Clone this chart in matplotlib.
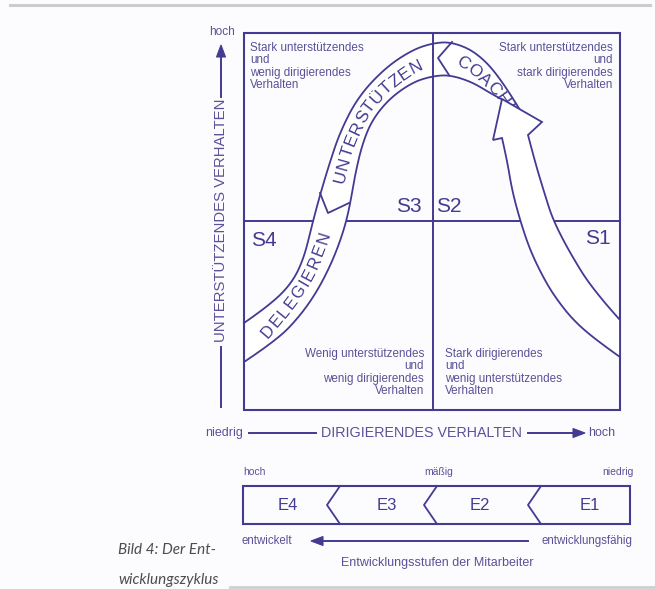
import numpy as np
import matplotlib
matplotlib.use('Agg')
from matplotlib import pyplot as plt
from matplotlib.path import Path
from matplotlib.patches import Polygon, Rectangle
from matplotlib.font_manager import FontProperties
from matplotlib.textpath import text_to_path

LINE = '#433a92'
TXT = '#5a5297'
FONT = 'Liberation Sans'

# --- diagram data (pixel positions) ---
box = (244, 33, 620, 410)          # left, top, right, bottom of quadrant field
mid_x, mid_y = 433, 221

quad_labels = ['S4', 'S3', 'S2', 'S1']
quad_label_xy = [(264, 240), (409, 206), (449, 206), (598, 238)]

quad_texts = [
    'Stark unterstützendes\nund\nwenig dirigierendes\nVerhalten',
    'Stark unterstützendes\nund\nstark dirigierendes\nVerhalten',
    'Wenig unterstützendes\nund\nwenig dirigierendes\nVerhalten',
    'Stark dirigierendes\nund\nwenig unterstützendes\nVerhalten',
]
quad_text_xy = [(250, 42), (613, 42), (424, 348), (445, 348)]
quad_text_ha = ['left', 'right', 'right', 'left']

# band edges (left/top part of the bell curve)
outer_edge = [(244, 323), (270, 305), (292, 283), (304, 258), (312, 225), (320, 195),
              (329, 165), (340, 132), (358, 97), (385, 68), (412, 50), (433, 43),
              (452, 42), (476, 52), (500, 77), (520, 110)]
inner_edge = [(244, 362), (277, 340), (300, 316), (318, 290), (333, 260), (344, 230),
              (350, 205), (355, 175), (362, 145), (372, 120), (390, 98), (413, 82),
              (433, 76), (450, 75), (472, 82), (490, 93), (501, 99)]
cut_v = [(320, 193), (328, 213), (349, 203)]
cut_top = [(452, 42), (438, 58), (449, 75)]

# big arrow on the right (S1 -> S2)
head_tip = (502, 99)
head_right = (542, 122)
head_left = (493, 140)
shaft_right = [(528, 135), (535, 162), (545, 195), (553, 220), (570, 253), (593, 290), (620, 320)]
shaft_left = [(620, 357), (596, 340), (573, 320), (555, 297), (543, 277), (530, 250),
              (520, 220), (512, 190), (507, 160), (502, 138)]

# words along the band
band_words = ['DELEGIEREN', 'UNTERSTÜTZEN', 'COACHING']
band_word_path = [
    [(264, 336), (288, 308), (305, 283), (318, 256), (327, 230), (333, 205)],
    [(339, 183), (344, 163), (351, 141), (362, 117), (378, 96), (398, 78), (420, 64), (442, 57)],
    [(457, 60), (471, 68), (486, 80), (499, 95), (510, 112), (518, 130), (522, 150)],
]
band_word_size = [12, 12.5, 12.5]
band_word_gap = [1.6, 1.0, 1.0]

# development stages bar
stages = ['E4', 'E3', 'E2', 'E1']
stage_x = [288, 387, 480, 590]
chevron_tip_x = [327, 424, 528]
chevron_top_x = [340, 437, 541]
stage_box = (243, 486, 630, 524)
stage_top_labels = ['hoch', 'mäßig', 'niedrig']


def smooth(pts):
    p = np.asarray(pts, float)
    verts = [p[0]]
    codes = [Path.MOVETO]
    for i in range(1, len(p) - 2):
        verts += [p[i], (p[i] + p[i + 1]) / 2]
        codes += [Path.CURVE3, Path.CURVE3]
    verts += [p[-2], p[-1]]
    codes += [Path.CURVE3, Path.CURVE3]
    return Path(verts, codes)


def flatten(path, n=25):
    out = []
    for seg, code in path.iter_bezier():
        if code == Path.MOVETO:
            continue
        t = np.linspace(0, 1, n)
        pts = seg(t)
        if out:
            pts = pts[1:]
        out.append(pts)
    return np.vstack(out)


fig = plt.figure(figsize=(6.55, 5.89), dpi=100)
fig.patch.set_facecolor('#fcfcfe')
ax = fig.add_axes([0, 0, 1, 1])
ax.set_xlim(0, 655)
ax.set_ylim(589, 0)
ax.axis('off')

# page rules
ax.plot([10, 650], [5, 5], color='#cccccc', lw=2.2)
ax.plot([230, 655], [587, 587], color='#d0d0d0', lw=2)

# quadrant field
l, t, r, b = box
ax.add_patch(Rectangle((l, t), r - l, b - t, fill=False, ec=LINE, lw=1.5, zorder=3))
ax.plot([l, r], [mid_y, mid_y], color=LINE, lw=1.4, zorder=1)
ax.plot([mid_x, mid_x], [t, b], color=LINE, lw=1.4, zorder=3.5)

for s, (x, y) in zip(quad_labels, quad_label_xy):
    ax.text(x, y, s, ha='center', va='center', fontsize=15, family=FONT, color=LINE, zorder=4)

for s, (x, y), ha in zip(quad_texts, quad_text_xy, quad_text_ha):
    ax.text(x, y, s, ha=ha, va='top', multialignment=ha, fontsize=8.4, family=FONT,
            color=TXT, linespacing=1.05, zorder=4)

# band
outer_xy = flatten(smooth(outer_edge))
inner_xy = flatten(smooth(inner_edge))
ax.add_patch(Polygon(np.vstack([outer_xy, inner_xy[::-1]]), closed=True, fc='white', ec='none', zorder=2))
ax.plot(outer_xy[:, 0], outer_xy[:, 1], color=LINE, lw=1.3, zorder=3)
ax.plot(inner_xy[:, 0], inner_xy[:, 1], color=LINE, lw=1.3, zorder=3)
for cut in (cut_v, cut_top):
    c = np.array(cut)
    ax.plot(c[:, 0], c[:, 1], color=LINE, lw=1.3, zorder=3)


def text_along(pts, word, size, gap):
    xy = flatten(smooth(pts))
    d = np.r_[0, np.cumsum(np.hypot(*np.diff(xy, axis=0).T))]
    prop = FontProperties(family=FONT, size=size)
    pos = 0.0
    for ch in word:
        w = text_to_path.get_text_width_height_descent(ch, prop, ismath=False)[0] * 100 / 72
        c = pos + w / 2
        x, y = np.interp(c, d, xy[:, 0]), np.interp(c, d, xy[:, 1])
        x1, y1 = np.interp(c - 3, d, xy[:, 0]), np.interp(c - 3, d, xy[:, 1])
        x2, y2 = np.interp(c + 3, d, xy[:, 0]), np.interp(c + 3, d, xy[:, 1])
        ang = np.degrees(np.arctan2(-(y2 - y1), x2 - x1))
        ax.text(x, y, ch, rotation=ang, rotation_mode='anchor', ha='center', va='center',
                fontproperties=prop, color=LINE, zorder=4)
        pos += w + gap


for word, pts, size, gap in zip(band_words, band_word_path, band_word_size, band_word_gap):
    text_along(pts, word, size, gap)

# big arrow
sr = flatten(smooth(shaft_right))
sl = flatten(smooth(shaft_left))
arrow_xy = np.vstack([[head_tip, head_right], sr, sl, [head_left]])
ax.add_patch(Polygon(arrow_xy, closed=True, fc='white', ec=LINE, lw=1.3, zorder=6, joinstyle='miter'))

# vertical axis
ax.plot([221, 221], [407, 347], color=LINE, lw=1.4)
ax.plot([221, 221], [97, 55], color=LINE, lw=1.4)
ax.add_patch(Polygon([(221, 45), (216.5, 57), (225.5, 57)], closed=True, fc=LINE, ec=LINE, lw=0.8))
ax.text(221, 220, 'UNTERSTÜTZENDES VERHALTEN', rotation=90, ha='center', va='center',
        fontsize=10.7, family=FONT, color=TXT)
ax.text(222, 32, 'hoch', ha='center', va='center', fontsize=8.5, family=FONT, color=TXT)

# horizontal axis
ax.text(243, 433, 'niedrig', ha='right', va='center', fontsize=9, family=FONT, color=TXT)
ax.plot([249, 316], [433, 433], color=LINE, lw=1.4)
ax.text(421, 433, 'DIRIGIERENDES VERHALTEN', ha='center', va='center', fontsize=10.3, family=FONT, color=TXT)
ax.plot([528, 575], [433, 433], color=LINE, lw=1.4)
ax.add_patch(Polygon([(585, 433), (573, 428.5), (573, 437.5)], closed=True, fc=LINE, ec=LINE, lw=0.8))
ax.text(588, 433, 'hoch', ha='left', va='center', fontsize=9, family=FONT, color=TXT)

# development stages
sl_, st_, sr_, sb_ = stage_box
ax.add_patch(Rectangle((sl_, st_), sr_ - sl_, sb_ - st_, fill=False, ec=LINE, lw=1.5))
for tip, top in zip(chevron_tip_x, chevron_top_x):
    ax.plot([top, tip, top], [st_, (st_ + sb_) / 2, sb_], color=LINE, lw=1.3)
for s, x in zip(stages, stage_x):
    ax.text(x, (st_ + sb_) / 2, s, ha='center', va='center', fontsize=12, family=FONT, color=LINE)
ax.text(sl_, 472, stage_top_labels[0], ha='left', va='center', fontsize=7.5, family=FONT, color=TXT)
ax.text(439, 472, stage_top_labels[1], ha='center', va='center', fontsize=7.5, family=FONT, color=TXT)
ax.text(634, 472, stage_top_labels[2], ha='right', va='center', fontsize=7.5, family=FONT, color=TXT)

ax.text(242, 541, 'entwickelt', ha='left', va='center', fontsize=8.3, family=FONT, color=TXT)
ax.plot([322, 528], [541, 541], color=LINE, lw=1.4)
ax.add_patch(Polygon([(311, 541), (323, 536.5), (323, 545.5)], closed=True, fc=LINE, ec=LINE, lw=0.8))
ax.text(541, 541, 'entwicklungsfähig', ha='left', va='center', fontsize=8.3, family=FONT, color=TXT)
ax.text(437, 563, 'Entwicklungsstufen der Mitarbeiter', ha='center', va='center', fontsize=9,
        family=FONT, color=TXT)

# caption
ax.text(118, 550, 'Bild 4: Der Ent-', ha='left', va='center', fontsize=11, family='Lato',
        style='italic', color='#4d4d4d')
ax.text(118, 580, 'wicklungszyklus', ha='left', va='center', fontsize=11, family='Lato',
        style='italic', color='#4d4d4d')

fig.savefig('out.png', dpi=100, facecolor=fig.get_facecolor())
